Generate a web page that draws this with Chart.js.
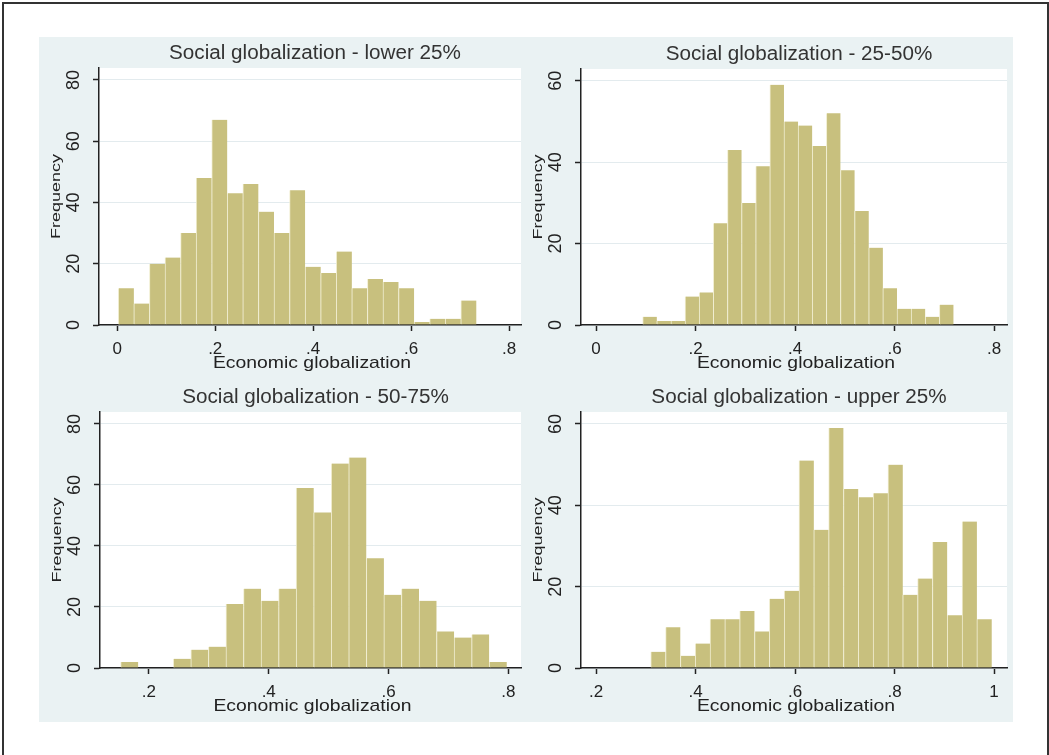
<!DOCTYPE html>
<html>
<head>
<meta charset="utf-8">
<script src="https://cdn.jsdelivr.net/npm/chart.js@4.4.1/dist/chart.umd.min.js"></script>
<style>
  html, body { margin: 0; padding: 0; background: #fff; width: 1049px; height: 755px; overflow: hidden; }
  #frame { position: absolute; left: 2px; top: 2px; width: 1047px; height: 800px; box-sizing: border-box; border: 2px solid #333; }
  #bg { position: absolute; left: 39px; top: 37px; width: 974px; height: 685px; background: #eaf2f3; }
  canvas { position: absolute; }
</style>
</head>
<body>
<div id="frame"></div>
<div id="bg"></div>
<canvas id="p1" width="487" height="343" style="left:39px;top:37px"></canvas>
<canvas id="p2" width="487" height="343" style="left:526px;top:37px"></canvas>
<canvas id="p3" width="487" height="342" style="left:39px;top:380px"></canvas>
<canvas id="p4" width="487" height="342" style="left:526px;top:380px"></canvas>
<script>
// histogram counts per social globalization quartile
const lowerCounts = [12, 7, 20, 22, 30, 48, 67, 43, 46, 37, 30, 44, 19, 17, 24, 12, 15, 14, 12, 1, 2, 2, 8];
const midLowCounts = [2, 1, 1, 7, 8, 25, 43, 30, 39, 59, 50, 49, 44, 52, 38, 28, 19, 9, 4, 4, 2, 5];
const midHighCounts = [2, 0, 0, 3, 6, 7, 21, 26, 22, 26, 59, 51, 67, 69, 36, 24, 26, 22, 12, 10, 11, 2];
const upperCounts = [4, 10, 3, 6, 12, 12, 14, 9, 17, 19, 51, 34, 59, 44, 42, 43, 50, 18, 22, 31, 13, 36, 12];

// bin edges (first bin start, bin width) on economic globalization
const lowerBins = [0.002, 0.0318];
const midLowBins = [0.0938, 0.0284];
const midHighBins = [0.1528, 0.0293];
const upperBins = [0.31, 0.0298];

const titles = [
  "Social globalization - lower 25%",
  "Social globalization - 25-50%",
  "Social globalization - 50-75%",
  "Social globalization - upper 25%",
];
const xTitle = "Economic globalization";
const yTitle = "Frequency";

const xTicksA = [0, 0.2, 0.4, 0.6, 0.8];
const xTicksB = [0.2, 0.4, 0.6, 0.8];
const xTicksC = [0.2, 0.4, 0.6, 0.8, 1];
const yTicks80 = [0, 20, 40, 60, 80];
const yTicks60 = [0, 20, 40, 60];

const FONT = "'Liberation Sans', Arial, sans-serif";
const BAR = "rgb(200, 192, 126)";
const INK = "#222";

function fmtX(v) {
  if (v === 0) return "0";
  if (Math.abs(v - 1) < 1e-9) return "1";
  return v.toFixed(1).replace(/^0/, "");
}

function stretchText(ctx, text, x, y, size, sx, color, rot) {
  ctx.save();
  ctx.translate(x, y);
  ctx.rotate(rot);
  ctx.scale(sx, 1);
  ctx.font = size + "px " + FONT;
  ctx.fillStyle = color;
  ctx.textAlign = "center";
  ctx.textBaseline = "alphabetic";
  ctx.fillText(text, 0, 0);
  ctx.restore();
}

const panelText = {
  id: "panelText",
  beforeDraw(chart) {
    const { ctx, chartArea: a } = chart;
    ctx.save();
    ctx.fillStyle = "#fff";
    ctx.fillRect(a.left, a.top, a.right - a.left, a.bottom - a.top);
    ctx.restore();
  },
  afterDraw(chart, args, opts) {
    const { ctx, chartArea: a } = chart;
    const cx = (a.left + a.right) / 2;
    stretchText(ctx, opts.title, cx + 5, a.top - 9, 19.5, 1.06, "#333", 0);
    stretchText(ctx, xTitle, cx + 2, a.bottom + 43, 17, 1.14, INK, 0);
    stretchText(ctx, yTitle, a.left - 39, (a.top + a.bottom) / 2, 12, 1.5, INK, -Math.PI / 2);
  },
};

function makePanel(id, title, counts, bins, xMin, xMax, xTicks, yMax, yTicks, lay) {
  const points = counts.map((c, i) => ({ x: bins[0] + (i + 0.5) * bins[1], y: c }));
  return new Chart(document.getElementById(id), {
    type: "bar",
    data: {
      datasets: [
        {
          data: points,
          backgroundColor: BAR,
          borderColor: "rgba(240, 236, 205, 0.9)",
          borderWidth: { left: 1, right: 0, top: 0, bottom: 0 },
          borderSkipped: false,
          barPercentage: 1,
          categoryPercentage: 1,
        },
      ],
    },
    options: {
      responsive: false,
      animation: false,
      devicePixelRatio: 1,
      layout: { padding: { top: lay.top, right: lay.right, left: 0, bottom: 0 } },
      scales: {
        x: {
          type: "linear",
          min: xMin,
          max: xMax,
          offset: false,
          afterBuildTicks: (axis) => { axis.ticks = xTicks.map((v) => ({ value: v })); },
          afterFit: (axis) => { axis.height = lay.xh; },
          grid: { drawOnChartArea: false, offset: false, tickLength: 6, tickColor: INK, tickWidth: 1.5, color: INK },
          border: { color: INK, width: 1.5 },
          ticks: {
            autoSkip: false,
            maxRotation: 0,
            padding: 8,
            color: INK,
            font: { family: FONT, size: 17 },
            callback: (v) => fmtX(v),
          },
        },
        y: {
          min: 0,
          max: yMax,
          afterBuildTicks: (axis) => { axis.ticks = yTicks.map((v) => ({ value: v })); },
          afterFit: (axis) => { axis.width = lay.yw; },
          grid: { color: "#e3ebee", tickColor: INK, tickLength: 6, tickWidth: 1.5 },
          border: { color: INK, width: 1.5 },
          ticks: {
            autoSkip: false,
            minRotation: 90,
            maxRotation: 90,
            crossAlign: "center",
            padding: 8.5,
            color: INK,
            font: { family: FONT, size: 18 },
          },
        },
      },
      plugins: {
        legend: { display: false },
        tooltip: { enabled: false },
        panelText: { title: title },
      },
    },
    plugins: [panelText],
  });
}

const topLeft = { top: 31, right: 5, xh: 55, yw: 60 };
const topRight = { top: 32, right: 6, xh: 55, yw: 55 };
const botLeft = { top: 32, right: 5, xh: 54, yw: 61 };
const botRight = { top: 32, right: 6, xh: 54, yw: 55 };

makePanel("p1", titles[0], lowerCounts, lowerBins, -0.0374, 0.8245, xTicksA, 83.9, yTicks80, topLeft);
makePanel("p2", titles[1], midLowCounts, midLowBins, -0.0302, 0.8261, xTicksA, 62.9, yTicks60, topRight);
makePanel("p3", titles[2], midHighCounts, midHighBins, 0.1183, 0.8212, xTicksB, 83.9, yTicks80, botLeft);
makePanel("p4", titles[3], upperCounts, upperBins, 0.1698, 1.0261, xTicksC, 62.95, yTicks60, botRight);
</script>
</body>
</html>
